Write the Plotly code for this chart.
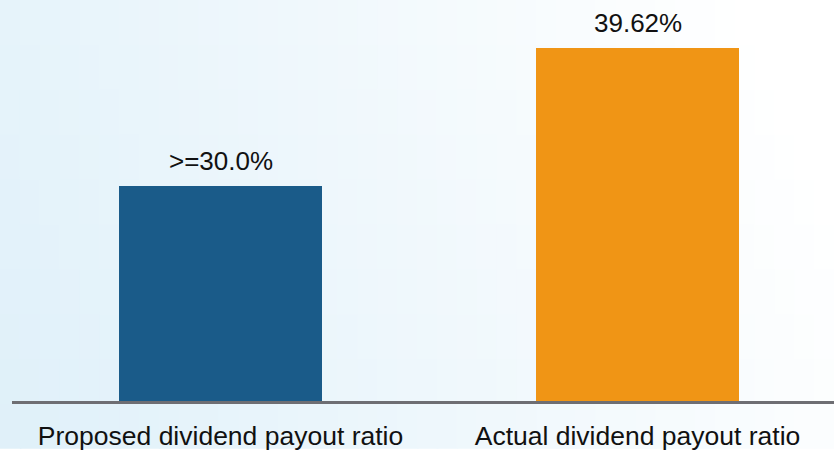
import plotly.graph_objects as go

categories = ["Proposed dividend payout ratio", "Actual dividend payout ratio"]
values = [30.0, 39.62]
value_labels = [">=30.0%", "39.62%"]
bar_colors = ["#1a5b89", "#f09515"]

W, H = 834, 451
ML, MB = 12, 48

fig = go.Figure()
fig.add_trace(go.Bar(
    x=categories, y=values, marker_color=bar_colors, marker_line_width=0,
    width=0.487, base=0, hoverinfo="skip",
))

# value labels sitting above each bar
for cat, val, lab in zip(categories, values, value_labels):
    fig.add_annotation(x=cat, y=val, text=lab, showarrow=False, yanchor="bottom",
                       yshift=8, font=dict(size=26, color="#111111"))

# soft blue-to-white background, built from small tiles
shapes = []
ncol, nrow = 42, 10
pw, ph = W - ML, H - MB
for i in range(ncol):
    for j in range(nrow):
        u = (i + 0.5) / ncol
        v = (j + 0.5) / nrow  # 0 at bottom
        w = min(1.0, 0.88 * u + 0.22 * v)
        r = round(223 + (255 - 223) * w)
        g = round(240 + (255 - 240) * w)
        b = round(249 + (255 - 249) * w)
        x0 = (i * W / ncol - ML) / pw
        x1 = ((i + 1) * W / ncol - ML) / pw + 0.002
        y0 = (j * H / nrow - MB) / ph
        y1 = ((j + 1) * H / nrow - MB) / ph + 0.005
        shapes.append(dict(type="rect", xref="paper", yref="paper", x0=x0, x1=x1,
                           y0=y0, y1=y1, fillcolor=f"rgb({r},{g},{b})",
                           line_width=0, layer="below"))

fig.update_layout(
    width=W, height=H,
    margin=dict(l=ML, r=0, t=0, b=MB, pad=0),
    paper_bgcolor="white", plot_bgcolor="rgba(0,0,0,0)",
    font=dict(family="Liberation Sans, Arial, sans-serif", size=26, color="#111111"),
    showlegend=False, shapes=shapes, bargap=0,
)
fig.update_xaxes(range=[-0.5, -0.5 + (W - ML) / 417], showline=True, linecolor="#6e6e73",
                 linewidth=3, ticks="", showgrid=False, zeroline=False,
                 ticklabelstandoff=9, tickfont=dict(size=26.5, color="#111111"))
fig.update_yaxes(range=[15, 43], visible=False, showgrid=False, zeroline=False)

fig.write_html("out.html", config={"displayModeBar": False},
               post_script="document.body.style.margin='0';")
